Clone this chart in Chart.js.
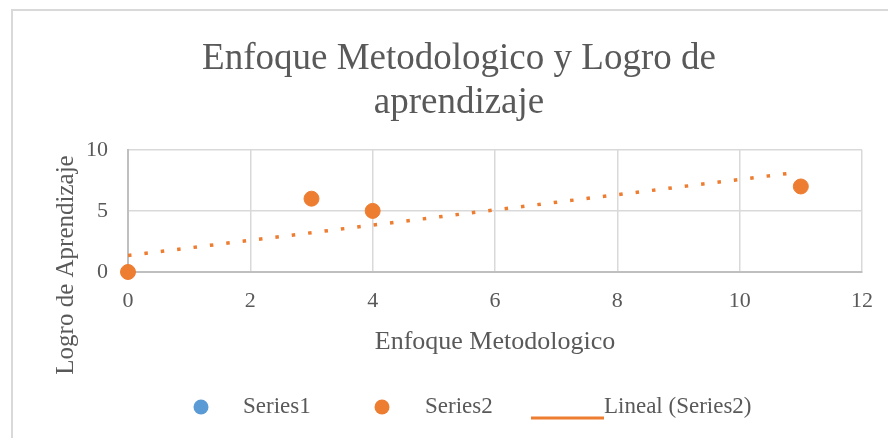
<!DOCTYPE html>
<html>
<head>
<meta charset="utf-8">
<script src="https://cdn.jsdelivr.net/npm/chart.js@4"></script>
<style>
    body { margin: 0; background: #ffffff; }
    #wrap { width: 888px; height: 438px; }
</style>
</head>
<body>
<div id="wrap"><canvas id="chart" width="888" height="438"></canvas></div>
<script>
// ==================== ДАННЫЕ ====================

const series1X = [];
const series1Y = [];

const series2X = [0, 3, 4, 11];
const series2Y = [0, 6, 5, 7];

// линия тренда (концы)
const trendX = [0, 10.85];
const trendY = [1.35, 8.1];

const xTicks = [0, 2, 4, 6, 8, 10, 12];
const yTicks = [0, 5, 10];

const seriesNames = ['Series1', 'Series2', 'Lineal (Series2)'];
const yTitle = 'Logro de Aprendizaje';

// ==================== СТИЛИ ====================

const FONT = '"Liberation Serif", "Times New Roman", serif';
const TEXT = '#595959';
const GRID = '#d9d9d9';
const BLUE = '#5b9bd5';
const ORANGE = '#ed7d31';

function toPoints(xs, ys) {
    return xs.map((x, i) => ({ x: x, y: ys[i] }));
}

// рамка вокруг диаграммы (видны только левая и верхняя)
const frame = {
    id: 'frame',
    beforeDraw(chart) {
        const ctx = chart.ctx;
        ctx.save();
        ctx.strokeStyle = GRID;
        ctx.lineWidth = 2;
        ctx.beginPath();
        ctx.moveTo(12, 438);
        ctx.lineTo(12, 10);
        ctx.lineTo(888, 10);
        ctx.stroke();
        ctx.restore();
    }
};

// подпись оси Y (в Excel она смещена ниже центра оси)
const yAxisTitle = {
    id: 'yAxisTitle',
    afterDraw(chart) {
        const ctx = chart.ctx;
        ctx.save();
        ctx.translate(66, 265);
        ctx.rotate(-Math.PI / 2);
        ctx.font = '25px ' + FONT;
        ctx.fillStyle = TEXT;
        ctx.textAlign = 'center';
        ctx.textBaseline = 'middle';
        ctx.fillText(yTitle, 0, 0);
        ctx.restore();
    }
};

// легенда внизу, как в Excel
const bottomLegend = {
    id: 'bottomLegend',
    afterDraw(chart) {
        const ctx = chart.ctx;
        const y = 407;
        const ds = chart.data.datasets;
        ctx.save();
        ctx.font = '23px ' + FONT;
        ctx.textBaseline = 'middle';

        // Series1
        ctx.beginPath();
        ctx.fillStyle = ds[0].backgroundColor;
        ctx.arc(201, y, 7.5, 0, Math.PI * 2);
        ctx.fill();
        ctx.fillStyle = TEXT;
        ctx.fillText(ds[0].label, 243, y);

        // Series2
        ctx.beginPath();
        ctx.fillStyle = ds[1].backgroundColor;
        ctx.arc(382, y, 7.5, 0, Math.PI * 2);
        ctx.fill();
        ctx.fillStyle = TEXT;
        ctx.fillText(ds[1].label, 425, y);

        // тренд
        ctx.strokeStyle = ds[2].borderColor;
        ctx.lineWidth = 3;
        ctx.beginPath();
        ctx.moveTo(531, y + 11);
        ctx.lineTo(604, y + 11);
        ctx.stroke();
        ctx.fillText(ds[2].label, 604, y);
        ctx.restore();
    }
};

// ==================== ГРАФИК ====================

new Chart(document.getElementById('chart'), {
    type: 'scatter',
    data: {
        datasets: [
            {
                label: seriesNames[0],
                data: toPoints(series1X, series1Y),
                backgroundColor: BLUE,
                borderColor: BLUE,
                pointRadius: 7.5,
                clip: false,
                order: 1
            },
            {
                label: seriesNames[1],
                data: toPoints(series2X, series2Y),
                backgroundColor: ORANGE,
                borderColor: ORANGE,
                pointRadius: 7.5,
                clip: false,
                order: 1
            },
            {
                type: 'line',
                label: seriesNames[2],
                data: toPoints(trendX, trendY),
                borderColor: ORANGE,
                backgroundColor: ORANGE,
                borderWidth: 3.5,
                borderDash: [3.5, 13],
                borderCapStyle: 'butt',
                pointRadius: 0,
                fill: false,
                order: 2
            }
        ]
    },
    options: {
        responsive: false,
        animation: false,
        layout: {
            padding: { top: 10, left: 40, right: 10, bottom: 80 }
        },
        plugins: {
            legend: { display: false },
            tooltip: { enabled: false },
            title: {
                display: true,
                text: ['Enfoque Metodologico y Logro de', 'aprendizaje'],
                color: TEXT,
                font: { family: FONT, size: 37, weight: 'normal', lineHeight: 1.2 },
                padding: { top: 27, bottom: 24 }
            }
        },
        scales: {
            x: {
                type: 'linear',
                min: 0,
                max: 12,
                afterBuildTicks: axis => { axis.ticks = xTicks.map(v => ({ value: v })); },
                afterFit: axis => {
                    axis.height = 86;
                    axis.paddingRight = 26;
                },
                ticks: {
                    color: TEXT,
                    font: { family: FONT, size: 22 },
                    padding: 16,
                    maxRotation: 0
                },
                grid: { color: GRID, lineWidth: 1.5, drawTicks: false },
                border: { color: '#bfbfbf', width: 2 },
                title: {
                    display: true,
                    text: 'Enfoque Metodologico',
                    color: TEXT,
                    font: { family: FONT, size: 26 },
                    padding: 0
                }
            },
            y: {
                type: 'linear',
                min: 0,
                max: 10,
                afterBuildTicks: axis => { axis.ticks = yTicks.map(v => ({ value: v })); },
                afterFit: axis => { axis.width = 88; },
                ticks: {
                    color: TEXT,
                    font: { family: FONT, size: 22 },
                    padding: 20
                },
                grid: { color: GRID, lineWidth: 1.5, drawTicks: false },
                border: { color: '#bfbfbf', width: 2 },
                title: { display: false }
            }
        }
    },
    plugins: [frame, yAxisTitle, bottomLegend]
});
</script>
</body>
</html>
